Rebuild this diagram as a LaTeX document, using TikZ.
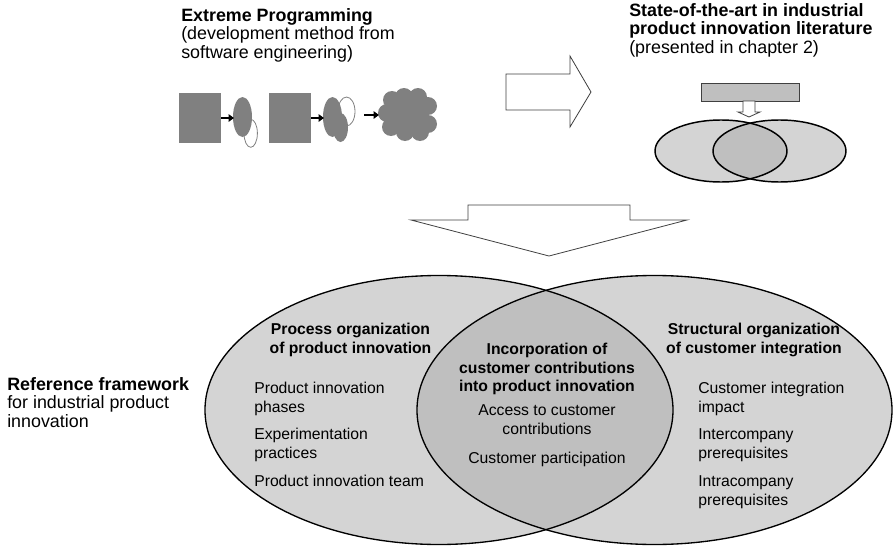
\documentclass[tikz,border=0pt]{standalone}
\usepackage{fontspec}
\setmainfont{Liberation Sans}
\usetikzlibrary{arrows.meta}

\definecolor{venntwo}{gray}{0.83}
\definecolor{vennboth}{gray}{0.75}
\definecolor{icongray}{gray}{0.5}
\definecolor{framegray}{gray}{0.25}

\tikzset{
  headtext/.style={font=\fontsize{13.4}{13.8}\selectfont, align=left, inner sep=0pt},
  venntext/.style={font=\fontsize{11.8}{13.7}\selectfont, inner sep=0pt},
  fatarrow/.style={draw=framegray, line width=0.6pt, fill=white, line join=miter},
  iconarrow/.style={line width=1.4pt, -{Triangle[length=4pt,width=5.5pt]}},
}

\begin{document}
\begin{tikzpicture}[x=0.75pt, y=-0.75pt]
  \useasboundingbox (0,0) rectangle (894,546);

  % --- XP icons: iteration, iteration, result
  \fill[icongray] (179,93) rectangle (221,143);
  \draw[icongray, fill=white, line width=0.6pt] (250.7,133.3) ellipse [x radius=6.7, y radius=14];
  \fill[icongray] (242.5,117) ellipse [x radius=9.5, y radius=20];
  \fill[icongray] (269,93) rectangle (311,143);
  \draw[icongray, fill=white, line width=0.6pt] (346.5,111.5) ellipse [x radius=8.5, y radius=14.5];
  \fill[icongray] (340.5,127.5) ellipse [x radius=7.5, y radius=14.5];
  \fill[icongray] (332.5,117) ellipse [x radius=9.5, y radius=20];
  \fill[icongray] (408,115) ellipse [x radius=20, y radius=18];
  \foreach \cx/\cy in {387/113, 392/100, 404/97, 418/97, 428/106,
                       428/124, 420/132, 405/132, 391/127}
    \fill[icongray] (\cx,\cy) circle [radius=9];
  \coordinate (a1) at (221,118);  \coordinate (b1) at (234,118);
  \coordinate (a2) at (311,118);  \coordinate (b2) at (324,118);
  \coordinate (a3) at (364,115);  \coordinate (b3) at (379,115);
  \draw[iconarrow] (a1) -- (b1);
  \draw[iconarrow] (a2) -- (b2);
  \draw[iconarrow] (a3) -- (b3);

  % --- arrow to the right
  \draw[fatarrow] (506,74) -- (570,74) -- (570,56) -- (591,92)
    -- (570,127) -- (570,110) -- (506,110) -- cycle;

  % --- small venn with literature bar
  \draw[framegray, fill=vennboth, line width=0.6pt] (701,83) rectangle (799,101);
  \draw[fatarrow] (743,101) -- (755,101) -- (755,112) -- (760,112) -- (749,117)
    -- (738,112) -- (743,112) -- cycle;
  \fill[venntwo] (721,151) ellipse [x radius=66, y radius=31];
  \fill[venntwo] (779.5,151) ellipse [x radius=66.5, y radius=31];
  \begin{scope}
    \clip (721,151) ellipse [x radius=66, y radius=31];
    \fill[vennboth] (779.5,151) ellipse [x radius=66.5, y radius=31];
  \end{scope}
  \draw[line width=1.1pt] (721,151) ellipse [x radius=66, y radius=31];
  \draw[line width=1.1pt] (779.5,151) ellipse [x radius=66.5, y radius=31];

  % --- arrow down
  \draw[fatarrow] (468,205) -- (630,205) -- (630,220) -- (687,220) -- (549,256)
    -- (411,220) -- (468,220) -- cycle;

  % --- big venn
  \fill[venntwo] (439,410) ellipse [x radius=234, y radius=134.5];
  \fill[venntwo] (654.5,410) ellipse [x radius=237.5, y radius=134.5];
  \begin{scope}
    \clip (439,410) ellipse [x radius=234, y radius=134.5];
    \fill[vennboth] (654.5,410) ellipse [x radius=237.5, y radius=134.5];
  \end{scope}
  \draw[line width=1pt] (439,410) ellipse [x radius=234, y radius=134.5];
  \draw[line width=1pt] (654.5,410) ellipse [x radius=237.5, y radius=134.5];

  % --- texts (base = baseline of the last line)
  \node[headtext, anchor=base west] (xp) at (181,58)
    {\textbf{Extreme Programming}\\(development method from\\software engineering)};
  \node[headtext, anchor=base west] (lit) at (629,53)
    {\textbf{State-of-the-art in industrial}\\\textbf{product innovation literature}\\(presented in chapter 2)};
  \node[headtext, anchor=base west] (ref) at (7,427)
    {\textbf{Reference framework}\\for industrial product\\innovation};

  \node[venntext, align=center, anchor=base] (proc) at (350.5,353)
    {\textbf{Process organization}\\\textbf{of product innovation}};
  \node[venntext, align=left, anchor=base west] (phases) at (254,412)
    {Product innovation\\phases};
  \node[venntext, align=left, anchor=base west] (exper) at (254,458)
    {Experimentation\\practices};
  \node[venntext, align=left, anchor=base west] (team) at (254,486)
    {Product innovation team};

  \node[venntext, align=center, anchor=base] (incorp) at (547,391.5)
    {\textbf{Incorporation of}\\\textbf{customer contributions}\\\textbf{into product innovation}};
  \node[venntext, align=center, anchor=base] (access) at (547,434)
    {Access to customer\\contributions};
  \node[venntext, align=center, anchor=base] (partic) at (547,463)
    {Customer participation};

  \node[venntext, align=center, anchor=base] (struct) at (754,353)
    {\textbf{Structural organization}\\\textbf{of customer integration}};
  \node[venntext, align=left, anchor=base west] (impact) at (698,412)
    {Customer integration\\impact};
  \node[venntext, align=left, anchor=base west] (inter) at (698,458)
    {Intercompany\\prerequisites};
  \node[venntext, align=left, anchor=base west] (intra) at (698,505)
    {Intracompany\\prerequisites};
\end{tikzpicture}
\end{document}
